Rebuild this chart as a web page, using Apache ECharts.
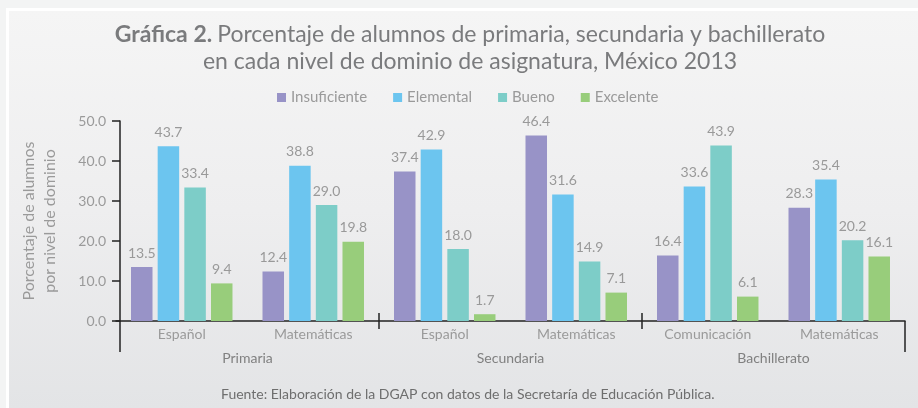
<!DOCTYPE html>
<html>
<head>
<meta charset="utf-8">
<script src="https://cdn.jsdelivr.net/npm/echarts@6/dist/echarts.min.js"></script>
<style>
    html, body { margin: 0; padding: 0; background: #f3f4f4; }
    .frame {
        position: absolute; left: 6px; top: 8px; width: 912px; height: 400px;
        background: #ffffff;
    }
    .panel {
        position: absolute; left: 9px; top: 11px; width: 909px; height: 397px;
        background: linear-gradient(to bottom, #f5f5f5 0%, #eeeeef 50%, #e3e4e6 100%);
    }
    #chart { position: absolute; left: 0; top: 0; width: 918px; height: 408px; }
</style>
</head>
<body>
<div class="frame"></div>
<div class="panel"></div>
<div id="chart"></div>
<script>
    // datos
    var asignaturas = ['Español', 'Matemáticas', 'Español', 'Matemáticas', 'Comunicación', 'Matemáticas'];
    var niveles = ['Primaria', 'Secundaria', 'Bachillerato'];
    var insuficiente = [13.5, 12.4, 37.4, 46.4, 16.4, 28.3];
    var elemental = [43.7, 38.8, 42.9, 31.6, 33.6, 35.4];
    var bueno = [33.4, 29.0, 18.0, 14.9, 43.9, 20.2];
    var excelente = [9.4, 19.8, 1.7, 7.1, 6.1, 16.1];
    var yTicks = [0, 10, 20, 30, 40, 50];

    var fuente = 'Lato';
    var gridLeft = 116, gridRight = 13;

    function barSerie(name, data, color) {
        return {
            name: name,
            type: 'bar',
            data: data,
            barWidth: 21.5,
            barGap: '24%',
            itemStyle: { color: color },
            label: {
                show: true,
                position: 'top',
                distance: 7,
                color: '#999999',
                fontFamily: fuente,
                fontSize: 14,
                formatter: function (p) { return p.value.toFixed(1) }
            }
        }
    }

    var chart = echarts.init(document.getElementById('chart'));
    var options = {
        backgroundColor: 'transparent',
        animation: false,
        title: {
            left: 465,
            top: 16,
            textAlign: 'center',
            text: '{b|Gráfica 2.} {n|Porcentaje de alumnos de primaria, secundaria y bachillerato}\n{n|en cada nivel de dominio de asignatura, México 2013}',
            textStyle: {
                fontWeight: 'normal',
                rich: {
                    b: { fontFamily: fuente, fontSize: 23, fontWeight: 'bold', color: '#7a7b7d', lineHeight: 27 },
                    n: { fontFamily: fuente, fontSize: 23, fontWeight: 'normal', color: '#7a7b7d', lineHeight: 27 }
                }
            }
        },
        legend: {
            top: 85,
            left: 272,
            icon: 'rect',
            itemWidth: 9,
            itemHeight: 9,
            itemGap: 26,
            textStyle: { fontFamily: fuente, fontSize: 15, color: '#9a9a9a' },
            data: ['Insuficiente', 'Elemental', 'Bueno', 'Excelente']
        },
        grid: { left: gridLeft, right: gridRight, top: 121, bottom: 87, containLabel: false },
        xAxis: [
            {
                type: 'category',
                data: asignaturas,
                axisLine: { show: true, lineStyle: { color: '#222222', width: 1.5 } },
                axisTick: { show: false },
                axisLabel: { color: '#9a9a9a', fontFamily: fuente, fontSize: 14, margin: 6 }
            },
            {
                type: 'category',
                position: 'bottom',
                data: niveles,
                axisLine: { show: false },
                axisTick: { show: false },
                axisLabel: { color: '#808080', fontFamily: fuente, fontSize: 14, margin: 30 }
            }
        ],
        yAxis: {
            type: 'value',
            min: 0,
            max: 50,
            interval: 10,
            offset: -4,
            name: 'Porcentaje de alumnos\npor nivel de dominio',
            nameLocation: 'middle',
            nameRotate: 90,
            nameGap: 60,
            nameTextStyle: { color: '#9a9a9a', fontFamily: fuente, fontSize: 16, lineHeight: 21 },
            splitLine: { show: false },
            axisLine: { show: true, lineStyle: { color: '#222222', width: 1.5 } },
            axisTick: { show: true, length: 8, lineStyle: { color: '#222222', width: 1.5 } },
            axisLabel: {
                color: '#9a9a9a', fontFamily: fuente, fontSize: 14, margin: 14,
                formatter: function (v) { return yTicks.indexOf(v) >= 0 ? v.toFixed(1) : '' }
            }
        },
        series: [
            barSerie('Insuficiente', insuficiente, '#9893c7'),
            barSerie('Elemental', elemental, '#6cc5ef'),
            barSerie('Bueno', bueno, '#7dcdc8'),
            barSerie('Excelente', excelente, '#98cd7b')
        ],
        graphic: [
            {
                type: 'text',
                left: 221,
                top: 387,
                style: {
                    text: 'Fuente: Elaboración de la DGAP con datos de la Secretaría de Educación Pública.',
                    fill: '#6e6e6e',
                    font: '14px Lato'
                }
            }
        ]
    };
    chart.setOption(options);

    // separadores de nivel educativo sobre el eje
    var y0 = chart.convertToPixel({ yAxisIndex: 0 }, 0);
    var c1 = chart.convertToPixel({ xAxisIndex: 0 }, 1);
    var c2 = chart.convertToPixel({ xAxisIndex: 0 }, 2);
    var c3 = chart.convertToPixel({ xAxisIndex: 0 }, 3);
    var c4 = chart.convertToPixel({ xAxisIndex: 0 }, 4);
    var xRight = 918 - gridRight;
    var xLeft = gridLeft + 4;
    var stroke = { stroke: '#222222', lineWidth: 1.5 };
    function linea(x, ya, yb) {
        return { type: 'line', silent: true, shape: { x1: x, y1: ya, x2: x, y2: yb }, style: stroke };
    }
    options.graphic = options.graphic.concat([
        linea((c1 + c2) / 2, y0 - 8, y0 + 8),
        linea((c3 + c4) / 2, y0 - 8, y0 + 8),
        linea(xLeft, y0, y0 + 31),
        linea(xRight, y0, y0 + 31)
    ]);
    chart.setOption({ graphic: options.graphic });
</script>
</body>
</html>
